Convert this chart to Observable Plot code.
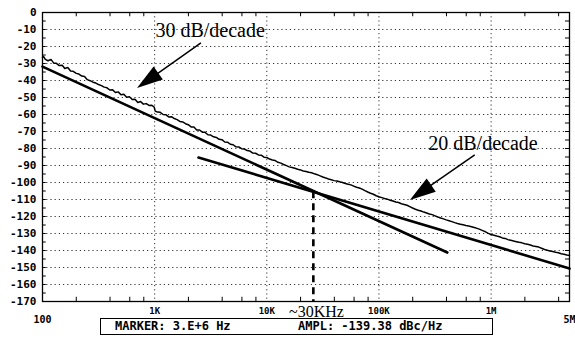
<!DOCTYPE html>
<html><head><meta charset="utf-8">
<script src="https://cdn.jsdelivr.net/npm/d3@7"></script>
<script src="https://cdn.jsdelivr.net/npm/@observablehq/plot@0.6"></script>
<style>
body{margin:0;background:#fff;}
#wrap{position:relative;width:575px;height:338px;overflow:hidden;background:#fff;}
#wrap svg{position:absolute;left:0;top:0;}
#marker{position:absolute;left:100px;top:318px;width:391px;height:15px;border:1.5px solid #000;font:bold 12px "DejaVu Sans Mono",monospace;color:#000;background:#fff;}
#marker span{position:absolute;top:0px;white-space:pre;line-height:15px;}
</style></head><body>
<div id="wrap"></div>
<script>
// ---- data ----
const freqHz = [100,102,106,112,119,126,133,141,150,158,168,178,188,200,211,224,237,251,266,282,299,316,335,355,376,398,422,447,473,501,531,562,596,631,668,708,750,794,841,891,944,989,
1012,1059,1122,1189,1259,1334,1413,1496,1585,1679,1778,1884,1995,2113,2239,2371,2512,2661,2818,2985,3162,3350,3548,3758,3981,4217,4467,4732,5012,5309,5623,5957,6310,6683,7079,7499,7943,8414,8913,9441,10000,
10593,11220,11885,12589,13335,14125,14962,15849,16788,17783,18836,19953,21135,22387,23714,25119,26607,28184,29854,31623,33497,35481,37584,39811,42170,44668,47315,50119,53088,56234,59566,63096,66834,70795,74989,79433,84140,89125,94406,
100000,105925,112202,118850,125893,133352,141254,149624,158489,167880,177828,188365,199526,211349,223872,237137,251189,266073,281838,298538,316228,334965,354813,375837,398107,421697,446684,473151,501187,530884,562341,595662,630957,668344,707946,749894,794328,841395,891251,944061,
1000000,1059254,1122018,1188502,1258925,1333521,1412538,1496236,1584893,1678804,1778279,1883649,1995262,2113489,2238721,2371374,2511886,2660725,2818383,3000000,3162278,3349654,3548134,3758374,3981072,4216965,4466836,4731513,5000000];
const noiseDbc = [-26.5,-25.8,-27.6,-28.4,-27.6,-29.8,-29.9,-31.2,-31.0,-32.9,-32.4,-34.4,-34.6,-35.8,-36.2,-37.4,-37.6,-39.5,-40.1,-41.0,-41.5,-42.4,-43.0,-43.9,-44.3,-45.6,-45.5,-47.1,-46.7,-48.4,-48.1,-49.9,-49.6,-51.2,-51.0,-52.9,-52.4,-53.9,-53.6,-54.7,-54.6,-55.6,
-58.0,-58.6,-58.7,-60.0,-60.1,-61.4,-61.3,-62.4,-63.0,-64.1,-64.4,-65.4,-66.0,-67.3,-67.4,-69.1,-69.1,-70.4,-70.5,-71.9,-72.1,-73.1,-73.5,-74.6,-74.8,-76.2,-76.3,-77.5,-77.8,-79.0,-79.1,-80.1,-80.3,-81.2,-81.5,-82.7,-82.8,-83.8,-83.9,-85.1,-85.3,
-86.2,-86.8,-87.1,-88.1,-88.6,-89.4,-90.1,-90.8,-91.2,-91.6,-92.2,-92.6,-93.2,-93.5,-94.0,-94.3,-94.9,-95.4,-96.1,-96.8,-97.3,-97.9,-98.4,-98.9,-99.1,-99.6,-100.0,-100.6,-101.0,-101.4,-102.1,-102.8,-103.2,-103.9,-104.8,-105.6,-106.3,-106.9,-107.8,
-108.4,-108.9,-109.4,-109.8,-110.4,-110.9,-111.5,-111.8,-112.5,-112.9,-113.4,-114.2,-115.0,-115.7,-116.3,-116.8,-117.4,-117.9,-118.5,-118.9,-119.6,-120.3,-120.9,-121.4,-122.0,-122.5,-123.0,-123.6,-124.1,-124.5,-124.9,-125.3,-125.6,-126.0,-126.5,-127.0,-127.6,-128.3,-129.0,-129.9,
-130.6,-131.0,-131.5,-131.9,-132.6,-132.9,-133.6,-134.0,-134.4,-134.8,-135.2,-135.5,-136.0,-136.3,-136.8,-137.3,-137.6,-138.0,-138.7,-139.4,-139.8,-140.3,-140.6,-141.0,-141.3,-141.9,-142.2,-142.6,-142.9];

const slope30Hz = [100, 407000];
const slope30Db = [-31.8, -141.2];
const slope20Hz = [2460, 5000000];
const slope20Db = [-85.3, -150.6];
const cornerHz = [26000];
const cornerDb = [-105.5];

const arrowTailHz = [2612, 722000];
const arrowTailDb = [-18.2, -84.1];
const arrowTipHz = [703, 190500];
const arrowTipDb = [-44.7, -110.6];

const noteText = ["30 dB/decade", "20 dB/decade"];
const noteHz = [1016, 275000];
const noteDb = [-14.7, -80.6];
const cornerLabel = "~30KHz";
const cornerLabelHz = 27700;
const cornerLabelDb = -179.4;

const yTicks = [0,-10,-20,-30,-40,-50,-60,-70,-80,-90,-100,-110,-120,-130,-140,-150,-160,-170];
const yTickLabels = ["0","-10","-20","-30","-40","-50","-60","-70","-80","-90","-100","-110","-120","-130","-140","-150","-160","-170"];
const yGrid = [-10,-20,-30,-40,-50,-60,-70,-80,-90,-100,-110,-120,-130,-140,-150,-160];
const yMinor = [-5,-10,-15,-20,-25,-30,-35,-40,-45,-50,-55,-60,-65,-70,-75,-80,-85,-90,-95,-100,-105,-110,-115,-120,-125,-130,-135,-140,-145,-150,-155,-160,-165];
const xMajor = [1000, 10000, 100000, 1000000];
const xMajorLabels = ["1K", "10K", "100K", "1M"];
const xEnds = [100, 5000000];
const xEndLabels = ["100", "5M"];
const xMinor = [200,400,600,800,2000,4000,6000,8000,20000,40000,60000,80000,200000,400000,600000,800000,2000000,4000000];
const markerTexts = ["MARKER: 3.E+6 Hz", "AMPL: -139.38 dBc/Hz"];

// ---- build ----
const noise = freqHz.map((f, i) => ({f, db: noiseDbc[i]}));
const s30 = slope30Hz.map((f, i) => ({f, db: slope30Db[i]}));
const s20 = slope20Hz.map((f, i) => ({f, db: slope20Db[i]}));
const notes = noteText.map((t, i) => ({t, f: noteHz[i], db: noteDb[i]}));
const ends = xEnds.map((f, i) => ({f, t: xEndLabels[i]}));
const yLab = new Map(yTicks.map((v, i) => [v, yTickLabels[i]]));
const xLab = new Map(xMajor.map((v, i) => [v, xMajorLabels[i]]));
const mono = "'DejaVu Sans Mono', monospace";
const serif = "'Liberation Serif', 'DejaVu Serif', serif";

function arrowHeads(index, scales) {
  const g = d3.create("svg:g");
  arrowTailHz.forEach((_, i) => {
    const x1 = scales.x(arrowTailHz[i]), y1 = scales.y(arrowTailDb[i]);
    const x2 = scales.x(arrowTipHz[i]), y2 = scales.y(arrowTipDb[i]);
    const dx = x2 - x1, dy = y2 - y1, len = Math.hypot(dx, dy);
    const ux = dx / len, uy = dy / len, hl = 26, hw = 8;
    const bx = x2 - ux * hl, by = y2 - uy * hl;
    g.append("line").attr("x1", x1).attr("y1", y1).attr("x2", bx + ux * 4).attr("y2", by + uy * 4)
      .attr("stroke", "#000").attr("stroke-width", 1.5);
    g.append("path").attr("d", `M${x2},${y2}L${bx - uy * hw},${by + ux * hw}L${bx + uy * hw},${by - ux * hw}Z`)
      .attr("fill", "#000");
  });
  return g.node();
}

const chart = Plot.plot({
  width: 575, height: 338,
  marginLeft: 42, marginRight: 6, marginTop: 12, marginBottom: 37,
  x: {type: "log", domain: [100, 5000000]},
  y: {domain: [-170, 0]},
  style: {background: "#fff", color: "#000", overflow: "visible"},
  marks: [
    Plot.ruleY(yGrid, {stroke: "#333", strokeWidth: 1, strokeDasharray: "1.2,3"}),
    Plot.ruleX(xMajor, {stroke: "#333", strokeWidth: 1, strokeDasharray: "1.2,3"}),
    Plot.ruleX(xMinor, {y1: -170, y2: -167.5, stroke: "#000", strokeWidth: 1}),
    Plot.ruleX(xMinor, {y1: 0, y2: -2.5, stroke: "#000", strokeWidth: 1}),
    Plot.ruleY(yMinor, {x1: 100, x2: 108, stroke: "#000", strokeWidth: 1}),
    Plot.ruleY(yMinor, {x1: 4600000, x2: 5000000, stroke: "#000", strokeWidth: 1}),
    Plot.frame({stroke: "#000", strokeWidth: 1.3}),
    Plot.line(noise, {x: "f", y: "db", stroke: "#000", strokeWidth: 1.5}),
    Plot.line(s30, {x: "f", y: "db", stroke: "#000", strokeWidth: 2.6}),
    Plot.line(s20, {x: "f", y: "db", stroke: "#000", strokeWidth: 2.6}),
    Plot.ruleX(cornerHz, {y1: cornerDb, y2: -170, stroke: "#000", strokeWidth: 2.6, strokeDasharray: "7,5"}),
    arrowHeads,
    Plot.text(notes, {x: "f", y: "db", text: "t", textAnchor: "start", lineAnchor: "bottom", fontSize: 20, fontFamily: serif, fill: "#000"}),
    Plot.text([cornerLabel], {x: cornerLabelHz, y: cornerLabelDb, text: d => d, textAnchor: "middle", lineAnchor: "bottom", fontSize: 16, fontFamily: serif, fill: "#000"}),
    Plot.axisY(yTicks, {tickSize: 0, tickPadding: 6, tickFormat: d => yLab.get(d), fontSize: 11, fontFamily: mono, fontWeight: "bold", label: null}),
    Plot.axisX(xMajor, {tickSize: 0, tickPadding: 6, tickFormat: d => xLab.get(d), fontSize: 9, fontFamily: mono, fontWeight: "bold", label: null}),
    Plot.text(ends, {x: "f", y: -170, text: "t", dy: 21, lineAnchor: "bottom", textAnchor: "middle", fontSize: 10, fontFamily: mono, fontWeight: "bold", fill: "#000"})
  ]
});

const wrap = document.getElementById("wrap");
wrap.appendChild(chart);
const box = document.createElement("div");
box.id = "marker";
const offs = [14, 197];
markerTexts.forEach((t, i) => {
  const s = document.createElement("span");
  s.style.left = offs[i] + "px";
  s.textContent = t;
  box.appendChild(s);
});
wrap.appendChild(box);
</script>
</body></html>
